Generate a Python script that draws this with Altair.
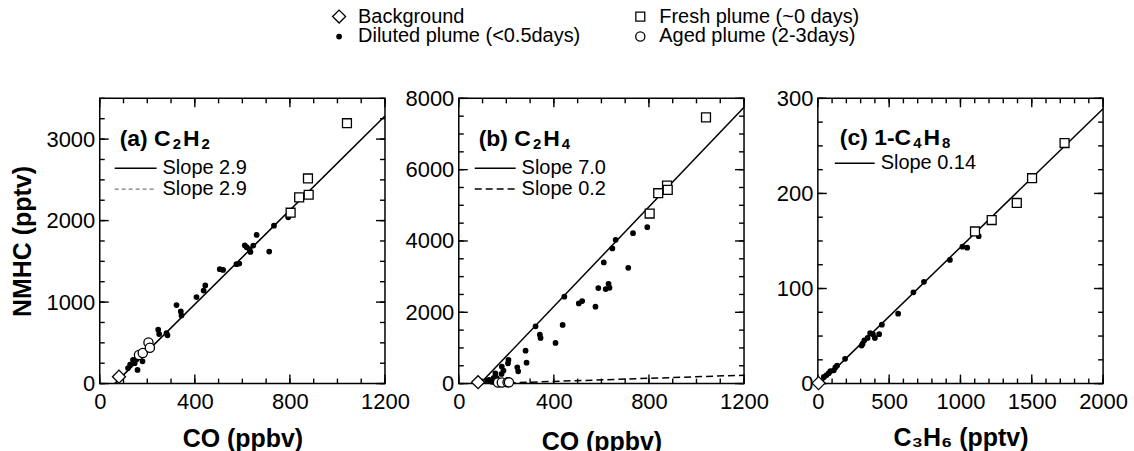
import altair as alt
import pandas as pd

FONT = "Liberation Sans"
# legend is filled column by column: column 1 = Background, Diluted; column 2 = Fresh, Aged
GROUPS = ["Background", "Diluted plume (<0.5days)", "Fresh plume (~0 days)", "Aged plume (2-3days)"]
SHAPES = ["diamond", "circle", "square", "circle"]
FILLS = ["white", "black", "white", "white"]
SIZES = [170, 20, 80, 85]

# ---------------- data: panels (a) and (b), x = CO (ppbv) ----------------
bg_co = [81]
bg_c2h2 = [85]
bg_c2h4 = [40]

fresh_co = [1040, 876, 839, 879, 803]
fresh_c2h2 = [3195, 2517, 2285, 2317, 2097]
fresh_c2h4 = [7467, 5553, 5339, 5432, 4769]

dil_co = [793, 733, 713, 660, 646, 634, 630, 618, 610, 587, 575, 519, 505, 444, 437, 407,
          341, 344, 323, 285, 281, 250, 246, 209, 207, 188, 181, 180, 159, 154, 147, 140, 128, 119]
dil_c2h2 = [2040, 1938, 1620, 1824, 1693, 1616, 1650, 1673, 1697, 1473, 1465, 1395, 1404, 1204, 1142, 1061,
            885, 836, 963, 592, 620, 608, 661, 440, 470, 400, 350, 273, 167, 300, 250, 290, 232, 190]
dil_c2h4 = [4387, 4219, 3248, 4032, 3789, 2688, 2800, 2651, 3397, 2680, 2157, 2315, 2249, 2437, 1644, 1140,
            1372, 1280, 1605, 588, 924, 345, 457, 663, 569, 364, 476, 271, 160, 289, 160, 50, 104, 80]

aged_co = [165, 181, 205, 211]
aged_c2h2 = [350, 375, 505, 440]
aged_c2h4 = [30, 30, 35, 35]

# fitted lines (end points)
fit_a_co = [63, 1200]
fit_a_nmhc = [0, 3284]
fit_b_co = [90, 1200]
fit_b_nmhc = [0, 7750]
fit_b2_co = [210, 1200]
fit_b2_nmhc = [20, 235]

# ---------------- data: panel (c), x = C3H6 (pptv) ----------------
bg_c3h6 = [5]
bg_c4h8 = [0.5]

fresh_c3h6 = [1102, 1219, 1395, 1502, 1730]
fresh_c4h8 = [160, 172, 190, 216, 253]

dil_c3h6 = [1128, 1047, 1014, 926, 744, 670, 563, 449, 430, 400, 386, 367, 349, 326, 314, 307,
            191, 135, 123, 112, 88, 77, 61, 42]
dil_c4h8 = [155, 143, 144, 130, 107, 96, 73.5, 62, 52, 48, 52, 53, 48, 45.5, 42, 40,
            26, 19, 17, 14, 13, 11, 9, 7]

fit_c_x = [15, 2000]
fit_c_y = [0, 289]

# ---------------- axis tick values ----------------
co_major = [0, 400, 800, 1200]
co_minor = list(range(0, 1201, 100))
a_major = [0, 1000, 2000, 3000]
a_minor = list(range(0, 3501, 250))
b_major = [0, 2000, 4000, 6000, 8000]
b_minor = list(range(0, 8001, 500))
c3_major = [0, 500, 1000, 1500, 2000]
c3_minor = list(range(0, 2001, 100))
c4_major = [0, 100, 200, 300]
c4_minor = list(range(0, 301, 25))

W = 286
H = 286
MAJ = 9   # inward tick lengths in pixels
MIN = 5

LEGEND = alt.Legend(orient="none", legendX=230, legendY=-92, columns=2, title=None,
                    labelFont=FONT, labelFontSize=20, labelColor="black", labelOffset=9,
                    labelLimit=0, symbolStrokeColor="black", symbolStrokeWidth=1.3,
                    symbolFillColor="white", columnPadding=50, rowPadding=0, padding=0)

# bold glyph widths (em) used to lay out the sub-scripted panel labels
BOLD_W = {"(": 0.333, ")": 0.333, " ": 0.278, "a": 0.556, "b": 0.611, "c": 0.556,
          "C": 0.722, "H": 0.722, "1": 0.556, "-": 0.333, "2": 0.556, "4": 0.556, "8": 0.556}


def pts_frame(bx, by, fx, fy, dx, dy, ax, ay):
    parts = [
        pd.DataFrame({"x": dx, "y": dy, "group": "Diluted plume (<0.5days)"}),
        pd.DataFrame({"x": fx, "y": fy, "group": "Fresh plume (~0 days)"}),
        pd.DataFrame({"x": ax, "y": ay, "group": "Aged plume (2-3days)"}),
        pd.DataFrame({"x": bx, "y": by, "group": "Background"}),
    ]
    df = pd.concat(parts, ignore_index=True)
    df["order"] = range(len(df))
    return df


def txt(text, x, y, size, bold=False):
    return alt.Chart(pd.DataFrame({"t": [text]})).mark_text(
        align="left", baseline="middle", font=FONT, fontSize=size,
        fontWeight="bold" if bold else "normal", color="black"
    ).encode(x=alt.value(x), y=alt.value(y), text="t:N")


def formula(pieces, x, y, size=23, sub=15):
    out = []
    cx = x
    for s, is_sub in pieces:
        fs = sub if is_sub else size
        out.append(txt(s, cx, y + (5 if is_sub else 0), fs, True))
        cx += sum(BOLD_W.get(ch, 0.6) for ch in s) * fs + 2
    return out


def seg(x1, x2, y, color="black", width=1.5, dash=None):
    kw = dict(color=color, strokeWidth=width)
    if dash:
        kw["strokeDash"] = dash
    return alt.Chart(pd.DataFrame({"a": [0]})).mark_rule(**kw).encode(
        x=alt.value(x1), x2=alt.value(x2), y=alt.value(y))


def panel(xdom, ydom, xmaj, xmin, ymaj, ymin, xtitle, ytitle, xtpad, lines, df, notes):
    xs = alt.Scale(domain=xdom, nice=False, zero=False)
    ys = alt.Scale(domain=ydom, nice=False, zero=False)
    xspan = xdom[1] - xdom[0]
    yspan = ydom[1] - ydom[0]

    xkw = dict(orient="bottom", values=xmaj, ticks=False, domain=False, grid=False,
               format="d", labelFont=FONT, labelFontSize=22, labelColor="black",
               labelPadding=8, labelFlush=False, labelOverlap=False, labelBound=False,
               title=xtitle, titleFont=FONT, titleFontSize=25, titleFontWeight="bold",
               titleColor="black", titlePadding=xtpad)
    ykw = dict(orient="left", values=ymaj, ticks=False, domain=False, grid=False,
               format="d", labelFont=FONT, labelFontSize=22, labelColor="black",
               labelPadding=5, labelFlush=False, labelOverlap=False, labelBound=False)
    if ytitle:
        ykw.update(title=ytitle, titleFont=FONT, titleFontSize=25, titleFontWeight="bold",
                   titleColor="black", titlePadding=10)
    else:
        ykw["title"] = None

    layers = []
    for lx, ly, dash, color, width in lines:
        kw = dict(color=color, strokeWidth=width)
        if dash:
            kw["strokeDash"] = dash
        layers.append(alt.Chart(pd.DataFrame({"x": lx, "y": ly})).mark_line(**kw).encode(
            x=alt.X("x:Q", scale=xs, axis=alt.Axis(**xkw) if not layers else None),
            y=alt.Y("y:Q", scale=ys, axis=alt.Axis(**ykw) if not layers else None)))

    # inward ticks on all four sides: segments built from the tick-value lists
    rows = []
    for vals, ln in ((xmin, MIN), (xmaj, MAJ)):
        dy = ln / H * yspan
        for v in vals:
            rows.append((v, v, ydom[0], ydom[0] + dy))
            rows.append((v, v, ydom[1], ydom[1] - dy))
    for vals, ln in ((ymin, MIN), (ymaj, MAJ)):
        dx = ln / W * xspan
        for v in vals:
            rows.append((xdom[0], xdom[0] + dx, v, v))
            rows.append((xdom[1], xdom[1] - dx, v, v))
    ticks = pd.DataFrame(rows, columns=["tx", "tx2", "ty", "ty2"])
    layers.append(alt.Chart(ticks).mark_rule(color="black", strokeWidth=1.4).encode(
        x=alt.X("tx:Q", scale=xs, axis=None), x2="tx2:Q",
        y=alt.Y("ty:Q", scale=ys, axis=None), y2="ty2:Q"))

    layers.append(alt.Chart(df).mark_point(filled=True, stroke="black", strokeWidth=1.3, opacity=1).encode(
        x=alt.X("x:Q", scale=xs, axis=None),
        y=alt.Y("y:Q", scale=ys, axis=None),
        shape=alt.Shape("group:N", scale=alt.Scale(domain=GROUPS, range=SHAPES), legend=LEGEND),
        fill=alt.Fill("group:N", scale=alt.Scale(domain=GROUPS, range=FILLS), legend=LEGEND),
        size=alt.Size("group:N", scale=alt.Scale(type="ordinal", domain=GROUPS, range=SIZES), legend=LEGEND),
        order=alt.Order("order:Q"),
    ))
    layers.extend(notes)
    return alt.layer(*layers).resolve_axis(x="independent", y="independent").properties(width=W, height=H)


df_a = pts_frame(bg_co, bg_c2h2, fresh_co, fresh_c2h2, dil_co, dil_c2h2, aged_co, aged_c2h2)
df_b = pts_frame(bg_co, bg_c2h4, fresh_co, fresh_c2h4, dil_co, dil_c2h4, aged_co, aged_c2h4)
df_c = pts_frame(bg_c3h6, bg_c4h8, fresh_c3h6, fresh_c4h8, dil_c3h6, dil_c4h8, [], [])

pa = panel([0, 1200], [0, 3500], co_major, co_minor, a_major, a_minor, "CO (ppbv)", "NMHC (pptv)", 14,
           [(fit_a_co, fit_a_nmhc, [4, 3], "#555555", 1.0), (fit_a_co, fit_a_nmhc, None, "black", 1.5)],
           df_a,
           formula([("(a) C", False), ("2", True), ("H", False), ("2", True)], 20, 41)
           + [seg(15, 57, 70), txt("Slope 2.9", 63, 70, 20),
              seg(15, 57, 91, "#555555", 1.0, [4, 3]), txt("Slope 2.9", 63, 91, 20)])

pb = panel([0, 1200], [0, 8000], co_major, co_minor, b_major, b_minor, "CO (ppbv)", None, 17,
           [(fit_b2_co, fit_b2_nmhc, [7, 4], "black", 1.5), (fit_b_co, fit_b_nmhc, None, "black", 1.5)],
           df_b,
           formula([("(b) C", False), ("2", True), ("H", False), ("4", True)], 20, 41)
           + [seg(16, 57, 70), txt("Slope 7.0", 63, 70, 20),
              seg(16, 57, 91, "black", 1.5, [7, 4]), txt("Slope 0.2", 63, 91, 20)])

pc = panel([0, 2000], [0, 300], c3_major, c3_minor, c4_major, c4_minor, "C₃H₆ (pptv)", None, 13,
           [(fit_c_x, fit_c_y, None, "black", 1.5)],
           df_c,
           formula([("(c) 1-C", False), ("4", True), ("H", False), ("8", True)], 22, 40)
           + [seg(17, 57, 65), txt("Slope 0.14", 63, 65, 20)])

chart = alt.hconcat(pa, pb, pc, spacing=74, bounds="flush").properties(
    padding={"left": 10, "top": 6, "right": 5, "bottom": 5}
).configure(
    background="white",
    view=alt.ViewConfig(stroke="black", strokeWidth=1.5),
)

chart.save("out.html", embed_options={"renderer": "svg", "actions": False})
